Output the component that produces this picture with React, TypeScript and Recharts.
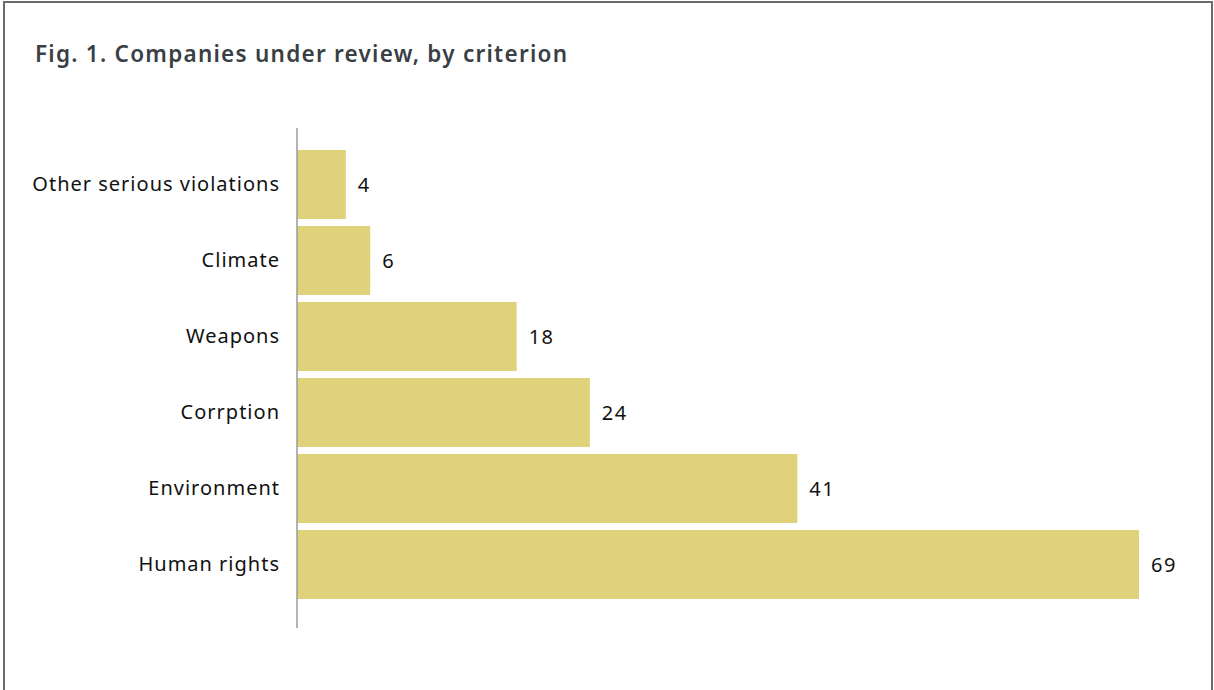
import React from "react";
import { BarChart, Bar, XAxis, YAxis, LabelList } from "recharts";

const categories = [
  "Other serious violations",
  "Climate",
  "Weapons",
  "Corrption",
  "Environment",
  "Human rights",
];
const counts = [4, 6, 18, 24, 41, 69];

const data = categories.map((c, i) => ({ name: c, value: counts[i] }));

const FONT = "'Noto Sans', 'Open Sans', sans-serif";

const CatTick = (props: any) => {
  const { x, y, payload } = props;
  return (
    <text
      x={x + 1}
      y={y}
      dy={7}
      textAnchor="end"
      fontSize={20}
      fill="#111"
      fontFamily={FONT}
      letterSpacing={1}
    >
      {payload.value}
    </text>
  );
};

export default function App() {
  return (
    <div
      style={{
        position: "absolute",
        left: 0,
        top: 0,
        width: 1214,
        height: 690,
        background: "#fff",
        overflow: "hidden",
        fontFamily: FONT,
      }}
    >
      <div
        style={{
          position: "absolute",
          left: 3,
          top: 1,
          width: 1206,
          height: 700,
          border: "2px solid #6b6b6b",
          borderBottom: "none",
        }}
      />
      <div
        style={{
          position: "absolute",
          left: 35,
          top: 39,
          fontSize: 22.5,
          fontWeight: 600,
          color: "#3a3f45",
          lineHeight: "30px",
          letterSpacing: 1.25,
          whiteSpace: "nowrap",
        }}
      >
        Fig. 1. Companies under review, by criterion
      </div>
      <div style={{ position: "absolute", left: 0, top: 0 }}>
        <BarChart
          width={1214}
          height={690}
          data={data}
          layout="vertical"
          margin={{ top: 128, right: 75, bottom: 62, left: 0 }}
        >
          <XAxis type="number" domain={[0, 69]} hide />
          <YAxis
            type="category"
            dataKey="name"
            width={297}
            axisLine={{ stroke: "#9a9aa2", strokeWidth: 1.5 }}
            tickLine={false}
            tickSize={0}
            tickMargin={18}
            padding={{ top: 18, bottom: 26 }}
            tick={<CatTick />}
            interval={0}
          />
          <Bar dataKey="value" fill="#dfd27b" barSize={69} isAnimationActive={false}>
            <LabelList
              dataKey="value"
              position="right"
              offset={12}
              content={(p: any) => (
                <text
                  x={p.x + p.width + 12}
                  y={p.y + p.height / 2}
                  dy={7}
                  fontSize={20}
                  fill="#111"
                  fontFamily={FONT}
                  letterSpacing={1.5}
                >
                  {p.value}
                </text>
              )}
            />
          </Bar>
        </BarChart>
      </div>
    </div>
  );
}
